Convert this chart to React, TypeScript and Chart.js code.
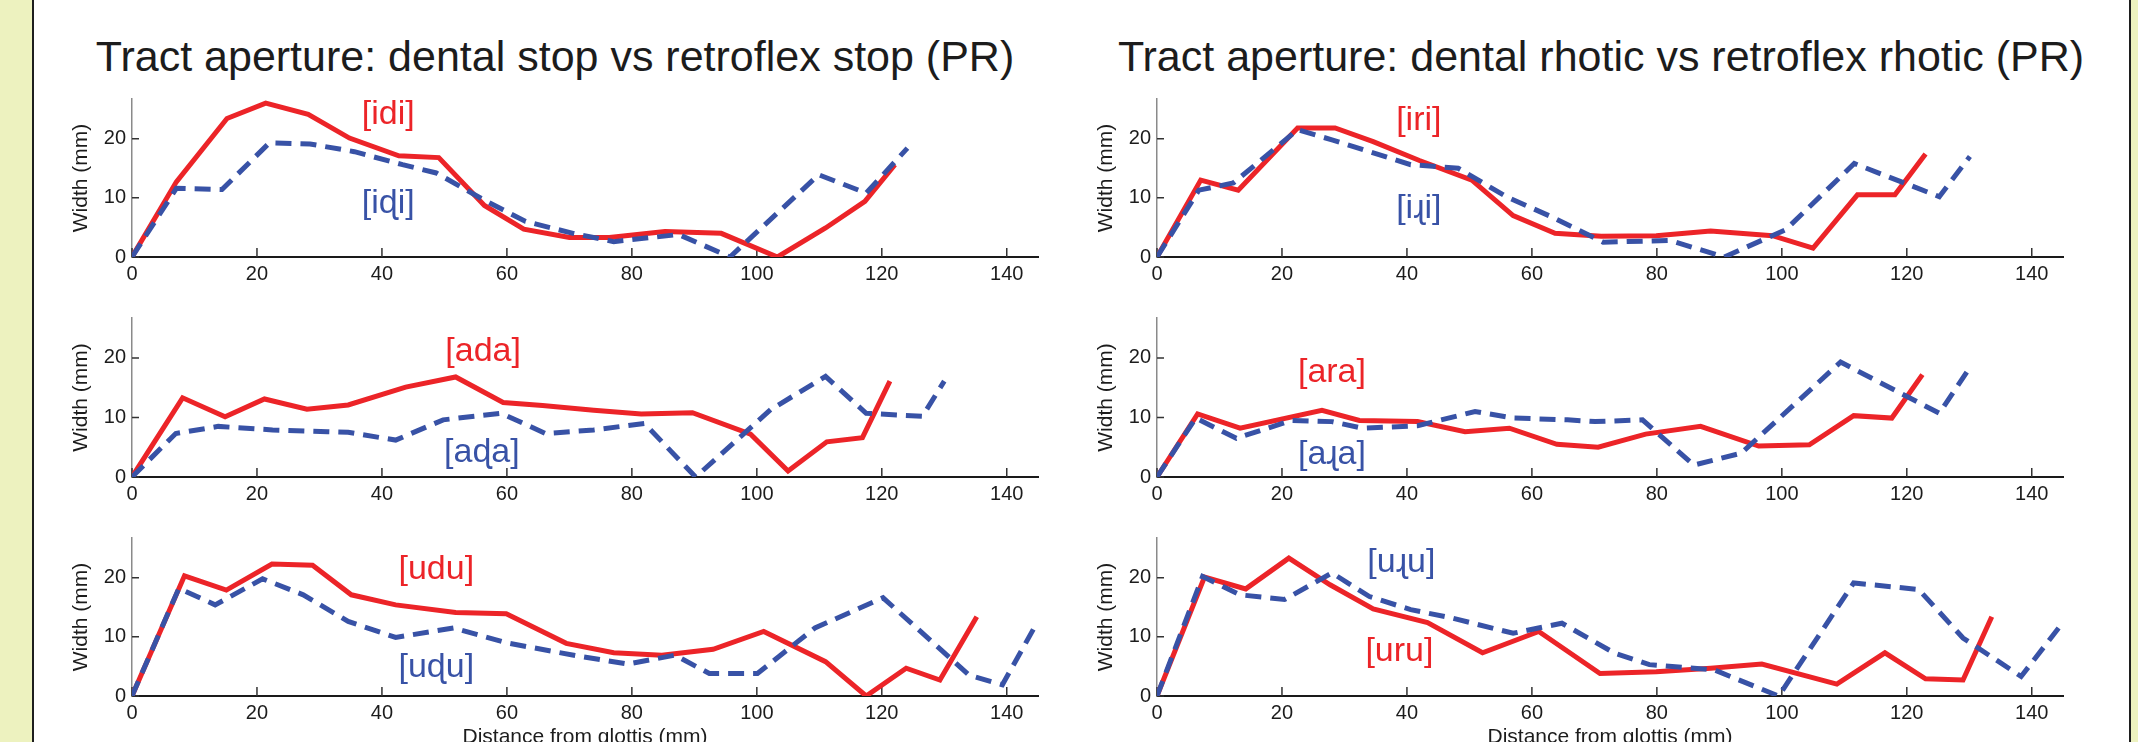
import React, { useEffect, useRef } from 'react';
import { Chart, registerables } from 'chart.js';

Chart.register(...registerables);

// ---------- data ----------
const X_TICKS = [0, 20, 40, 60, 80, 100, 120, 140];
const Y_TICKS = [0, 10, 20];
const X_MAX = 145;
const Y_MAX = 26.7;

const TITLE_LEFT = 'Tract aperture: dental stop vs retroflex stop (PR)';
const TITLE_RIGHT = 'Tract aperture: dental rhotic vs retroflex rhotic (PR)';
const Y_TITLE = 'Width (mm)';
const X_TITLE = 'Distance from glottis (mm)';

// [idi] / [iɖi]
const idiX = [0, 7.1, 15.2, 21.4, 28.2, 34.8, 42.7, 49.1, 56.4, 62.7, 70.0, 76.4, 85.3, 94.3, 103.3, 111.0, 117.3, 122.1];
const idiY = [0, 12.7, 23.4, 26.0, 24.1, 20.1, 17.1, 16.8, 8.7, 4.7, 3.3, 3.3, 4.3, 4.0, 0, 4.9, 9.4, 15.6];
const iddiX = [0, 7.1, 14.4, 22.0, 28.5, 35.6, 43.3, 48.7, 56.4, 63.0, 70.6, 77.1, 87.5, 95.7, 109.9, 117.5, 124.1];
const iddiY = [0, 11.6, 11.4, 19.3, 19.1, 17.8, 15.6, 14.2, 9.6, 6.0, 4.0, 2.6, 3.8, 0, 13.9, 10.8, 18.4];

// [iri] / [iɻi]
const iriX = [0, 7.0, 13.0, 22.5, 28.5, 34.6, 42.0, 50.4, 57.0, 63.7, 71.1, 79.9, 88.6, 98.5, 105.0, 112.1, 118.1, 123.0];
const iriY = [0, 13.0, 11.3, 21.8, 21.8, 19.5, 16.3, 13.0, 7.0, 4.0, 3.5, 3.6, 4.4, 3.6, 1.5, 10.5, 10.5, 17.4];
const irriX = [0, 6.7, 12.2, 22.5, 28.0, 40.6, 48.2, 55.9, 62.9, 71.4, 82.1, 90.8, 100.6, 111.6, 125.2, 130.1];
const irriY = [0, 11.3, 12.5, 21.5, 19.8, 15.6, 15.0, 10.2, 6.9, 2.5, 2.8, 0, 4.6, 15.8, 10.2, 17.0];

// [ada] / [aɖa]
const adaX = [0, 8.1, 14.9, 21.2, 28.0, 34.6, 43.8, 51.8, 59.4, 65.7, 73.9, 81.5, 89.7, 99.0, 105.0, 111.2, 116.9, 121.3];
const adaY = [0, 13.3, 10.1, 13.1, 11.4, 12.1, 15.1, 16.8, 12.5, 12.0, 11.2, 10.6, 10.8, 7.2, 1.0, 5.9, 6.6, 16.1];
const addaX = [0, 7.0, 13.8, 22.5, 31.3, 34.6, 42.2, 49.8, 59.1, 66.2, 73.9, 82.0, 90.2, 102.2, 111.0, 117.5, 126.5, 130.0];
const addaY = [0, 7.3, 8.5, 7.9, 7.6, 7.5, 6.2, 9.6, 10.7, 7.3, 7.9, 9.0, 0, 11.3, 16.9, 10.7, 10.2, 16.1];

// [ara] / [aɻa]
const araX = [0, 6.5, 13.3, 26.4, 32.4, 41.7, 49.3, 56.4, 64.0, 70.6, 78.2, 87.0, 96.3, 104.4, 111.5, 117.6, 122.5];
const araY = [0, 10.6, 8.2, 11.2, 9.5, 9.3, 7.6, 8.2, 5.5, 5.0, 7.2, 8.5, 5.2, 5.4, 10.3, 9.9, 17.2];
const arraX = [0, 6.2, 12.7, 21.5, 28.0, 32.9, 41.7, 50.9, 57.0, 65.7, 70.1, 77.7, 85.9, 93.5, 109.4, 125.2, 129.9];
const arraY = [0, 9.9, 6.5, 9.5, 9.3, 8.2, 8.6, 11.0, 9.9, 9.6, 9.3, 9.6, 2.0, 4.0, 19.3, 10.7, 18.1];

// [udu] / [uɖu]
const uduX = [0, 8.4, 15.1, 22.4, 28.9, 35.1, 42.2, 51.8, 59.9, 69.5, 77.1, 84.8, 93.0, 101.1, 111.0, 117.5, 123.9, 129.3, 135.2];
const uduY = [0, 20.3, 17.9, 22.3, 22.1, 17.1, 15.4, 14.1, 13.9, 8.9, 7.3, 6.9, 7.9, 10.9, 5.8, 0, 4.7, 2.7, 13.4];
const udduX = [0, 7.5, 13.3, 20.9, 27.4, 34.6, 42.2, 51.5, 59.9, 71.1, 79.3, 86.9, 92.4, 100.1, 109.3, 120.2, 134.0, 139.3, 144.8];
const udduY = [0, 18.2, 15.4, 19.8, 17.1, 12.6, 9.9, 11.5, 9.0, 6.8, 5.4, 6.9, 3.8, 3.8, 11.5, 16.6, 3.5, 1.9, 12.3];

// [uru] / [uɻu]
const uruX = [0, 7.6, 14.2, 21.1, 27.7, 34.6, 43.3, 52.1, 61.1, 70.9, 79.9, 88.6, 96.8, 108.8, 116.5, 123.0, 129.0, 133.6];
const uruY = [0, 20.1, 18.1, 23.3, 18.8, 14.7, 12.4, 7.3, 10.9, 3.8, 4.1, 4.7, 5.4, 2.0, 7.3, 2.9, 2.7, 13.4];
const urruX = [0, 7.3, 13.3, 20.4, 28.0, 34.0, 40.6, 47.1, 57.0, 64.8, 73.3, 78.8, 89.2, 99.5, 111.5, 121.9, 129.0, 138.3, 144.3];
const urruY = [0, 20.2, 17.1, 16.3, 20.8, 16.8, 14.6, 13.2, 10.6, 12.3, 7.2, 5.3, 4.4, 0, 19.1, 18.0, 9.8, 3.3, 11.5];

// label texts and their anchor points (data units)
const redLabels = ['[idi]', '[iri]', '[ada]', '[ara]', '[udu]', '[uru]'];
const redLabelX = [41, 41.9, 56.2, 28, 48.7, 38.8];
const redLabelY = [23.9, 22.9, 21.0, 17.4, 21.2, 7.4];
const blueLabels = ['[iɖi]', '[iɻi]', '[aɖa]', '[aɻa]', '[uɖu]', '[uɻu]'];
const blueLabelX = [41, 41.9, 56, 28, 48.7, 39.1];
const blueLabelY = [9.0, 8.0, 4.0, 3.7, 4.7, 22.4];

// ---------- styles ----------
const FONT = '"Liberation Sans", Arial, Helvetica, sans-serif';
const RED = '#ec2428';
const BLUE = '#3852a6';
const TEXT = '#1c1c1c';
const YELLOW = '#edf2bf';

const toPts = (xs: number[], ys: number[]) => xs.map((x, i) => ({ x, y: ys[i] }));

const seriesSets = [
  { red: toPts(idiX, idiY), blue: toPts(iddiX, iddiY) },
  { red: toPts(iriX, iriY), blue: toPts(irriX, irriY) },
  { red: toPts(adaX, adaY), blue: toPts(addaX, addaY) },
  { red: toPts(araX, araY), blue: toPts(arraX, arraY) },
  { red: toPts(uduX, uduY), blue: toPts(udduX, udduY) },
  { red: toPts(uruX, uruY), blue: toPts(urruX, urruY) },
];

// layout geometry (page pixels)
const AXIS_LEFT = [132, 1157];
const PLOT_RIGHT = [1038, 2063];
const PLOT_TOP = [99, 318, 538];
const PLOT_BOTTOM = [257, 477, 696];
const YSCALE_W = 82;
const PAD_TOP = 20;
const PAD_RIGHT = 30;

const tickPlugin = {
  id: 'innerTicks',
  beforeDatasetsDraw(chart: any) {
    const { ctx, chartArea, scales } = chart;
    ctx.save();
    ctx.strokeStyle = '#333';
    ctx.lineWidth = 1.5;
    ctx.beginPath();
    X_TICKS.forEach((v) => {
      const px = scales.x.getPixelForValue(v);
      ctx.moveTo(px, chartArea.bottom);
      ctx.lineTo(px, chartArea.bottom - 9);
    });
    Y_TICKS.forEach((v) => {
      const py = scales.y.getPixelForValue(v);
      ctx.moveTo(chartArea.left, py);
      ctx.lineTo(chartArea.left + 7, py);
    });
    ctx.stroke();
    ctx.restore();
  },
};

const labelPlugin = {
  id: 'phoneLabels',
  afterDatasetsDraw(chart: any, _args: any, opts: any) {
    const { ctx, scales } = chart;
    ctx.save();
    ctx.font = `34px ${FONT}`;
    ctx.textAlign = 'center';
    ctx.textBaseline = 'alphabetic';
    (opts.items || []).forEach((it: any) => {
      const px = scales.x.getPixelForValue(it.x);
      const py = scales.y.getPixelForValue(it.y);
      ctx.fillStyle = it.color;
      ctx.fillText(it.text, px, py + 8.8);
    });
    ctx.restore();
  },
};

function Panel({ idx }: { idx: number }) {
  const ref = useRef<HTMLCanvasElement>(null);
  const col = idx % 2;
  const row = Math.floor(idx / 2);
  const isBottom = row === 2;
  const xH = isBottom ? 60 : 40;
  const left = AXIS_LEFT[col] - YSCALE_W;
  const top = PLOT_TOP[row] - PAD_TOP;
  const width = PLOT_RIGHT[col] + PAD_RIGHT - left;
  const height = PAD_TOP + (PLOT_BOTTOM[row] - PLOT_TOP[row]) + xH;

  useEffect(() => {
    if (!ref.current) return;
    const s = seriesSets[idx];
    const chart = new Chart(ref.current, {
      type: 'line',
      data: {
        datasets: [
          {
            data: s.red,
            borderColor: RED,
            backgroundColor: RED,
            borderWidth: 5,
            pointRadius: 0,
            tension: 0,
            fill: false,
            order: 1,
          },
          {
            data: s.blue,
            borderColor: BLUE,
            backgroundColor: BLUE,
            borderWidth: 5,
            borderDash: [16, 9],
            pointRadius: 0,
            tension: 0,
            fill: false,
            order: 0,
          },
        ],
      },
      options: {
        animation: false,
        responsive: false,
        maintainAspectRatio: false,
        events: [],
        layout: { padding: { left: 0, right: PAD_RIGHT, top: PAD_TOP, bottom: 0 } },
        plugins: {
          legend: { display: false },
          tooltip: { enabled: false },
          phoneLabels: {
            items: [
              { text: redLabels[idx], x: redLabelX[idx], y: redLabelY[idx], color: RED },
              { text: blueLabels[idx], x: blueLabelX[idx], y: blueLabelY[idx], color: BLUE },
            ],
          },
        } as any,
        scales: {
          x: {
            type: 'linear',
            min: 0,
            max: X_MAX,
            grid: { display: false, drawTicks: false },
            border: { display: true, color: '#1a1a1a', width: 2 },
            ticks: { padding: 5, color: TEXT, font: { family: FONT, size: 20 }, maxRotation: 0, autoSkip: false },
            afterBuildTicks: (sc: any) => {
              sc.ticks = X_TICKS.map((v) => ({ value: v }));
            },
            afterFit: (sc: any) => {
              sc.height = xH;
            },
            title: {
              display: isBottom,
              text: X_TITLE,
              color: TEXT,
              font: { family: FONT, size: 21 },
              padding: { top: 0, bottom: 6 },
            },
          },
          y: {
            type: 'linear',
            min: 0,
            max: Y_MAX,
            grid: { display: false, drawTicks: false },
            border: { display: true, color: '#8a8a8a', width: 1.5 },
            ticks: { padding: 6, color: TEXT, font: { family: FONT, size: 20 }, autoSkip: false },
            afterBuildTicks: (sc: any) => {
              sc.ticks = Y_TICKS.map((v) => ({ value: v }));
            },
            afterFit: (sc: any) => {
              sc.width = YSCALE_W;
            },
            title: {
              display: true,
              text: Y_TITLE,
              color: TEXT,
              font: { family: FONT, size: 21 },
              padding: { top: 18.4, bottom: 0 },
            },
          },
        },
      } as any,
      plugins: [tickPlugin, labelPlugin],
    });
    return () => chart.destroy();
  }, [idx]);

  return (
    <canvas
      ref={ref}
      width={width}
      height={height}
      style={{ position: 'absolute', left, top, width, height }}
    />
  );
}

export default function App() {
  const titleStyle = (center: number): React.CSSProperties => ({
    position: 'absolute',
    left: center - 700,
    width: 1400,
    top: 34.6,
    textAlign: 'center',
    fontFamily: FONT,
    fontSize: 43,
    lineHeight: '43px',
    color: TEXT,
    whiteSpace: 'nowrap',
  });
  return (
    <div
      style={{
        position: 'absolute',
        left: 0,
        top: 0,
        width: 2138,
        height: 742,
        overflow: 'hidden',
        background: '#ffffff',
      }}
    >
      <div style={{ position: 'absolute', left: 0, top: 0, width: 32, height: 742, background: YELLOW }} />
      <div style={{ position: 'absolute', left: 32, top: 0, width: 2, height: 742, background: '#1e1e1e' }} />
      <div style={{ position: 'absolute', left: 2129, top: 0, width: 2, height: 742, background: '#1e1e1e' }} />
      <div style={{ position: 'absolute', left: 2131, top: 0, width: 7, height: 742, background: YELLOW }} />
      <div style={titleStyle(555)}>{TITLE_LEFT}</div>
      <div style={titleStyle(1601)}>{TITLE_RIGHT}</div>
      {[0, 1, 2, 3, 4, 5].map((i) => (
        <Panel key={i} idx={i} />
      ))}
    </div>
  );
}
